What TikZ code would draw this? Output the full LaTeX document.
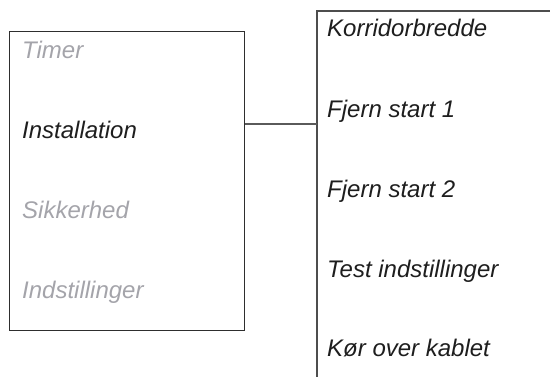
\documentclass[tikz,border=0pt]{standalone}
\usepackage{fontspec}
\setmainfont{Liberation Sans}
\definecolor{dimtext}{HTML}{A4A4AA}
\definecolor{darktext}{HTML}{1E1E1E}
\definecolor{boxline}{HTML}{2E2E2E}
\definecolor{linkline}{HTML}{5A5A5A}
\tikzset{
  item/.style={anchor=base west, inner sep=0pt, font=\fontsize{24}{27}\selectfont\itshape},
  dimitem/.style={item, text=dimtext},
  liveitem/.style={item, text=darktext},
  menubox/.style={draw=boxline, line width=1.1pt, minimum width=234.5pt, minimum height=299pt, inner sep=0pt},
  link/.style={draw=linkline, line width=1.3pt},
  subline/.style={draw=boxline!85!white, line width=1.3pt}
}
\begin{document}
\begin{tikzpicture}[x=1pt,y=-1pt]
\useasboundingbox (0,0) rectangle (550,376);
\node[menubox] (menu) at (127,181) {};
\node[dimitem] (t1) at (22,58) {Timer};
\node[liveitem] (t2) at (22,138) {Installation};
\node[dimitem] (t3) at (22,218) {Sikkerhed};
\node[dimitem] (t4) at (22,298) {Indstillinger};
\coordinate (subtop) at (317,11);
\coordinate (subright) at (551,11);
\coordinate (subbottom) at (317,377);
\coordinate (sub) at (317,124);
\draw[subline] (subright) -- (subtop) -- (subbottom);
\draw[link] (menu.east |- sub) -- (sub);
\node[liveitem] (s1) at (327,36) {Korridorbredde};
\node[liveitem] (s2) at (327,117) {Fjern start 1};
\node[liveitem] (s3) at (327,197) {Fjern start 2};
\node[liveitem] (s4) at (327,277) {Test indstillinger};
\node[liveitem] (s5) at (327,356) {Kør over kablet};
\end{tikzpicture}
\end{document}
